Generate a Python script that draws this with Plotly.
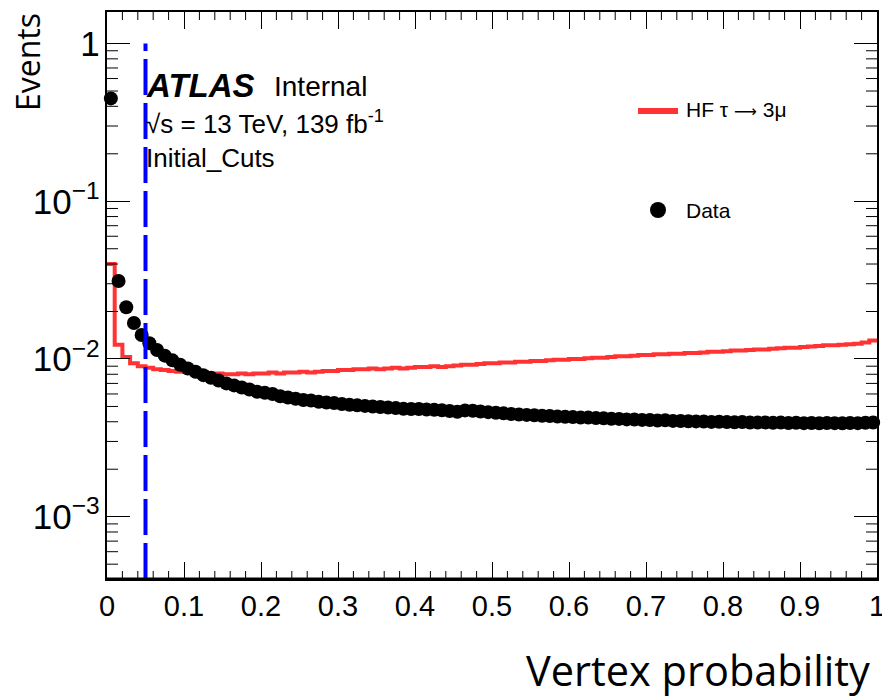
import numpy as np
import plotly.graph_objects as go

# Binning: 100 bins of width 0.01 on the vertex probability
bin_edges = np.round(np.linspace(0.0, 1.0, 101), 2)
bin_centers = np.round((bin_edges[:-1] + bin_edges[1:]) / 2, 3)

# Normalised data distribution
data_values = [
    0.449, 0.0312, 0.0213, 0.0169, 0.0142, 0.0126, 0.0114, 0.0105, 0.0098, 0.0092,
    0.0087, 0.0083, 0.0079, 0.0076, 0.0073, 0.0070, 0.0068, 0.0066, 0.0064, 0.0062,
    0.0061, 0.0060, 0.0058, 0.0057, 0.0056, 0.0055, 0.00545, 0.00535, 0.00530, 0.00525,
    0.00518, 0.00512, 0.00508, 0.00504, 0.00500, 0.00496, 0.00492, 0.00488, 0.00484, 0.00481,
    0.00482, 0.00478, 0.00476, 0.00473, 0.00468, 0.00462, 0.00472, 0.00470, 0.00465, 0.00460,
    0.00456, 0.00452, 0.00448, 0.00445, 0.00442, 0.00440, 0.00437, 0.00435, 0.00432, 0.00430,
    0.00428, 0.00426, 0.00425, 0.00422, 0.00421, 0.00418, 0.00417, 0.00414, 0.00413, 0.00411,
    0.00410, 0.00407, 0.00409, 0.00405, 0.00404, 0.00403, 0.00402, 0.00401, 0.00399, 0.00400,
    0.00398, 0.00397, 0.00398, 0.00396, 0.00395, 0.00396, 0.00394, 0.00395, 0.00393, 0.00394,
    0.00392, 0.00393, 0.00391, 0.00393, 0.00392, 0.00391, 0.00393, 0.00392, 0.00394, 0.00396,
]

# Normalised heavy-flavour tau -> 3mu signal histogram
signal_values = [
    0.0400, 0.0123, 0.0103, 0.0094, 0.0090, 0.0088, 0.0086, 0.0085, 0.0084, 0.0083,
    0.0083, 0.0082, 0.0082, 0.0081, 0.0081, 0.0080, 0.0080, 0.0081, 0.0080, 0.0081,
    0.0081, 0.0082, 0.0081, 0.0082, 0.0082, 0.0083, 0.0082, 0.0083, 0.0084, 0.0084,
    0.0085, 0.0085, 0.0086, 0.0086, 0.0087, 0.0086, 0.0087, 0.0088, 0.0087, 0.0088,
    0.0089, 0.0089, 0.0090, 0.0089, 0.0090, 0.0091, 0.0092, 0.0092, 0.0093, 0.0094,
    0.0094, 0.0095, 0.0095, 0.0096, 0.0096, 0.0097, 0.0097, 0.0098, 0.0099, 0.0099,
    0.0100, 0.0100, 0.0101, 0.0102, 0.0102, 0.0103, 0.0104, 0.0104, 0.0105, 0.0106,
    0.0106, 0.0107, 0.0107, 0.0108, 0.0108, 0.0109, 0.0109, 0.0110, 0.0111, 0.0111,
    0.0112, 0.0113, 0.0113, 0.0114, 0.0115, 0.0115, 0.0116, 0.0117, 0.0118, 0.0118,
    0.0119, 0.0120, 0.0121, 0.0122, 0.0122, 0.0123, 0.0124, 0.0125, 0.0127, 0.0131,
]

# Selection cut on the vertex probability
cut_value = 0.05
cut_top = 1.0

x_range = [0.0, 1.0]
y_log_range = [-3.395, 0.200]

# Secondary tick positions: every 0.02 in x, 2..9 x each decade in y
x_minor_ticks = [round(i * 0.02, 2) for i in range(1, 50) if i % 5 != 0]
y_minor_ticks = [k * 10.0 ** e for e in range(-4, 1) for k in range(2, 10)]

ROOT_FONT = "Liberation Sans, Arial, Helvetica, sans-serif"
TITLE_FONT = "Open Sans, Noto Sans, sans-serif"
RED = "#ff3333"

# plot-area geometry in pixels
PLOT_L, PLOT_R, PLOT_T, PLOT_B = 107, 877, 12, 579
PLOT_W, PLOT_H = PLOT_R - PLOT_L, PLOT_B - PLOT_T


def px_x(x):
    return (x - PLOT_L) / PLOT_W


def px_y(y):
    return (PLOT_B - y) / PLOT_H


fig = go.Figure()

# Signal histogram as a step line
fig.add_trace(go.Scatter(
    x=list(bin_edges),
    y=signal_values + [signal_values[-1]],
    mode="lines",
    line=dict(color=RED, width=4, shape="hv"),
    name="HF τ → 3μ",
    showlegend=False,
    hoverinfo="skip",
))

# Data points
fig.add_trace(go.Scatter(
    x=list(bin_centers),
    y=data_values,
    mode="markers",
    marker=dict(color="black", size=14),
    name="Data",
    showlegend=False,
    cliponaxis=False,
))

# Cut line
fig.add_trace(go.Scatter(
    x=[cut_value, cut_value],
    y=[10 ** y_log_range[0], cut_top],
    mode="lines",
    line=dict(color="#0000ff", width=4, dash="36px,8px"),
    showlegend=False,
    hoverinfo="skip",
))

common = dict(
    tickwidth=1,
    tickcolor="black",
    mirror="allticks",
    showline=True,
    linecolor="black",
    linewidth=1.5,
    showgrid=False,
    zeroline=False,
    automargin=False,
)

fig.update_layout(
    xaxis=dict(
        range=x_range,
        tickmode="linear",
        tick0=0,
        dtick=0.1,
        ticks="inside",
        ticklen=17,
        ticklabeloverflow="allow",
        tickfont=dict(family=ROOT_FONT, size=29, color="black"),
        **common,
    ),
    yaxis=dict(
        type="log",
        range=y_log_range,
        tickmode="linear",
        tick0=0,
        dtick=1,
        exponentformat="power",
        ticks="inside",
        ticklen=23,
        tickfont=dict(family=ROOT_FONT, size=28, color="black"),
        **common,
    ),
)

shapes = [
    # heavy bottom frame line
    dict(type="line", xref="paper", yref="paper", x0=0, x1=1, y0=0, y1=0,
         line=dict(color="black", width=3)),
    # legend: signal line sample
    dict(type="line", xref="paper", yref="paper", x0=px_x(638), x1=px_x(678),
         y0=px_y(111), y1=px_y(111), line=dict(color=RED, width=6)),
    # legend: data marker sample
    dict(type="circle", xref="paper", yref="paper", xsizemode="pixel", ysizemode="pixel",
         xanchor=px_x(658), yanchor=px_y(210), x0=-8, x1=8, y0=-8, y1=8,
         fillcolor="black", line=dict(color="black", width=0)),
]

tick_line = dict(color="black", width=1)

# short x ticks on bottom and top frame edges
for xv in x_minor_ticks:
    for y0, y1 in ((0.0, 8 / PLOT_H), (1.0 - 8 / PLOT_H, 1.0)):
        shapes.append(dict(type="line", xref="x", yref="paper",
                           x0=xv, x1=xv, y0=y0, y1=y1, line=tick_line))

# short log ticks on left and right frame edges
lo, hi = y_log_range
for yv in y_minor_ticks:
    frac = (np.log10(yv) - lo) / (hi - lo)
    if not 0 < frac < 1:
        continue
    for x0, x1 in ((0.0, 11 / PLOT_W), (1.0 - 11 / PLOT_W, 1.0)):
        shapes.append(dict(type="line", xref="paper", yref="paper",
                           x0=x0, x1=x1, y0=frac, y1=frac, line=tick_line))

ARROW = "<span style='font-family:DejaVu Sans;font-size:16px'>⟶</span>"

annotations = [
    dict(text="<b><i>ATLAS</i></b>", x=144, y=85, size=33),
    dict(text="Internal", x=272, y=86, size=28),
    dict(text="√s = 13 TeV, 139 fb<sup>-1</sup>", x=144, y=122, size=26),
    dict(text="Initial_Cuts", x=144, y=158, size=26),
    dict(text="HF τ " + ARROW + " 3μ", x=684, y=109, size=21),
    dict(text="Data", x=684, y=210, size=21),
]

ann_list = []
for a in annotations:
    ann_list.append(dict(
        text=a["text"], xref="paper", yref="paper",
        x=px_x(a["x"]), y=px_y(a["y"]),
        xanchor="left", yanchor="middle", showarrow=False,
        font=dict(family=ROOT_FONT, size=a["size"], color="black"),
    ))

# Axis titles
ann_list.append(dict(
    text="Vertex probability", xref="paper", yref="paper",
    x=px_x(872), y=px_y(670),
    xanchor="right", yanchor="middle", showarrow=False,
    font=dict(family=TITLE_FONT, size=41.5, color="black"),
))
ann_list.append(dict(
    text="Events", xref="paper", yref="paper",
    x=px_x(27), y=px_y(62),
    xanchor="center", yanchor="middle", textangle=-90, showarrow=False,
    font=dict(family=TITLE_FONT, size=32, color="black"),
))

fig.update_layout(
    width=882,
    height=699,
    margin=dict(l=PLOT_L, r=882 - PLOT_R, t=PLOT_T, b=699 - PLOT_B),
    paper_bgcolor="white",
    plot_bgcolor="white",
    showlegend=False,
    shapes=shapes,
    annotations=ann_list,
)

fig.write_html("out.html")
